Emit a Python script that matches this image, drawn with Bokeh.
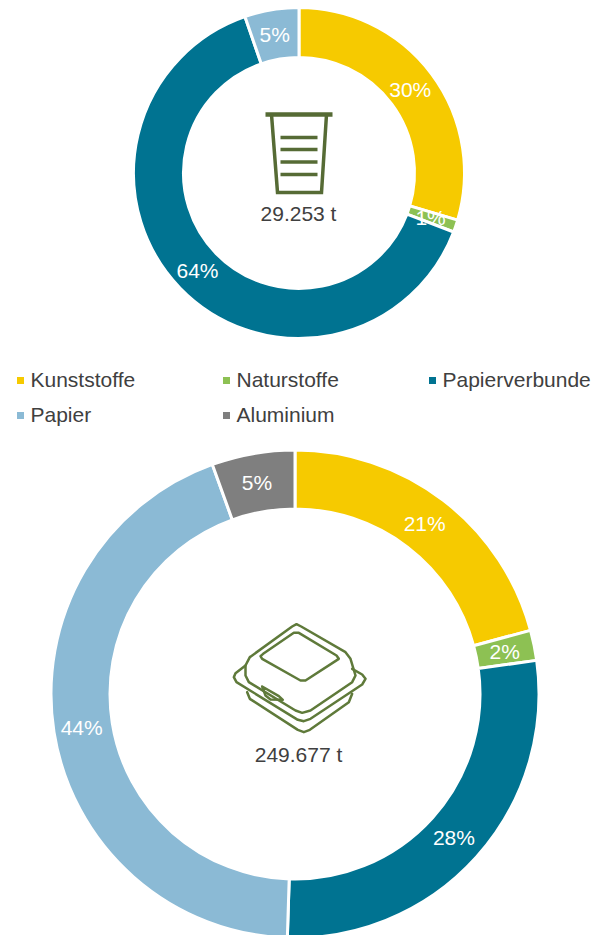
import math
from bokeh.plotting import figure
from bokeh.models import Range1d
from bokeh.embed import file_html
from bokeh.resources import INLINE
from bokeh.core.properties import value

categories = ["Kunststoffe", "Naturstoffe", "Papierverbunde", "Papier", "Aluminium"]
colors = ["#F6CA00", "#8DC153", "#007391", "#8BBAD5", "#7F7F7F"]
top_values = [29.6, 1.2, 63.9, 5.3, 0.0]
bottom_values = [20.8, 2.0, 27.7, 44.0, 5.5]
top_labels = ["30%", "1%", "64%", "5%", ""]
bottom_labels = ["21%", "2%", "28%", "44%", "5%"]
top_total = "29.253 t"
bottom_total = "249.677 t"

FONT = value("Liberation Sans")
TXT = "#404040"
OLIVE = "#566B35"
W, H = 591, 935


def X(px):
    return px


def Y(py):
    return 935 - py


p = figure(width=W, height=H, x_range=Range1d(0, 591), y_range=Range1d(0, 935),
           output_backend="svg", toolbar_location=None, x_axis_type=None, y_axis_type=None,
           min_border=0, outline_line_color=None, background_fill_color="white")
p.grid.visible = False


def donut(vals, labels, cx, cy, r_in, r_out, label_r):
    total = sum(vals)
    cum = 0.0
    for v, c, lab in zip(vals, colors, labels):
        if v <= 0:
            continue
        a0 = math.pi / 2 - 2 * math.pi * cum / total
        a1 = math.pi / 2 - 2 * math.pi * (cum + v) / total
        p.annular_wedge(x=[X(cx)], y=[Y(cy)], inner_radius=r_in, outer_radius=r_out,
                        start_angle=a0, end_angle=a1, direction="clock",
                        fill_color=c, line_color="white", line_width=3)
        cum += v
    cum = 0.0
    for v, lab in zip(vals, labels):
        if v <= 0:
            continue
        mid = 2 * math.pi * (cum + v / 2) / total
        cum += v
        p.text(x=[X(cx - 1) + label_r * math.sin(mid)], y=[Y(cy) + label_r * math.cos(mid)], text=[lab],
               text_color="white", text_font=FONT, text_font_size="21px",
               text_align="center", text_baseline="middle")


donut(top_values, top_labels, 298.5, 172.5, 115.5, 165.5, 140)
donut(bottom_values, bottom_labels, 294.5, 693.5, 185, 244, 215)

# centre totals
p.text(x=[X(298)], y=[Y(213)], text=[top_total], text_color=TXT, text_font=FONT, text_font_size="21px",
       text_align="center", text_baseline="middle")
p.text(x=[X(298)], y=[Y(754)], text=[bottom_total], text_color=TXT, text_font=FONT, text_font_size="21px",
       text_align="center", text_baseline="middle")

# legend
leg_x = [20, 226, 432, 20, 226]
leg_y = [379, 379, 379, 414, 414]
for i, name in enumerate(categories):
    p.scatter(x=[X(leg_x[i])], y=[Y(leg_y[i] + 1)], marker="square", size=7, fill_color=colors[i], line_color=None)
    p.text(x=[X(leg_x[i] + 10)], y=[Y(leg_y[i])], text=[name], text_color=TXT, text_font=FONT,
           text_font_size="21px", text_align="left", text_baseline="middle")

# cup icon
cup_x = [[265, 332], [271, 277, 321, 326], [280, 317], [280, 317], [280, 317], [280, 317]]
cup_y = [[114, 114], [114, 192, 192, 114], [137, 137], [149, 149], [161.5, 161.5], [174, 174]]
cup_w = [4.5, 3.5, 3.5, 3.5, 3.5, 3.5]
for xs, ys, w in zip(cup_x, cup_y, cup_w):
    p.line(x=[X(v) for v in xs], y=[Y(v) for v in ys], line_color=OLIVE, line_width=w, line_join="miter")


# box icon, drawn in 3x zoom coordinates around (210, 600)
def box(pts, closed=False):
    xs = [210 + a / 3 for a, b in pts]
    ys = [600 + b / 3 for a, b in pts]
    p.line(x=[X(v) for v in xs], y=[Y(v) for v in ys], line_color="#5F7A3A", line_width=2.5,
           line_join="round", line_cap="round")


box([(158, 160), (250, 97), (265, 97), (378, 165), (385, 175), (285, 240), (270, 240), (155, 175), (150, 167), (158, 160)])
box([(118, 170), (245, 78), (258, 71), (272, 78), (405, 155), (420, 175), (435, 225), (425, 245), (300, 330),
     (275, 337), (255, 330), (115, 245), (105, 225), (105, 195), (118, 170)])
box([(105, 195), (75, 218), (70, 230), (78, 245), (262, 358), (280, 362), (300, 355), (455, 252), (465, 235), (455, 222), (425, 205)])
box([(110, 275), (118, 295), (262, 388), (280, 395), (298, 388), (415, 305), (425, 280)])
box([(155, 258), (165, 285), (180, 297), (217, 298), (205, 287), (155, 258)])

open("out.html", "w").write(file_html(p, INLINE))
